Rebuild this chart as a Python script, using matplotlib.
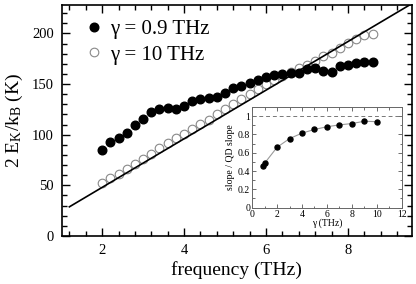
import numpy as np
import matplotlib
matplotlib.use('Agg')
import matplotlib.pyplot as plt
from matplotlib.ticker import MultipleLocator

plt.rcParams['font.family'] = ['Liberation Serif', 'DejaVu Serif']
plt.rcParams['mathtext.fontset'] = 'custom'
plt.rcParams['mathtext.rm'] = 'Liberation Serif'
plt.rcParams['mathtext.it'] = 'Liberation Serif:italic'

# main panel data
freq = [2.0, 2.2, 2.4, 2.6, 2.8, 3.0, 3.2, 3.4, 3.6, 3.8, 4.0, 4.2, 4.4, 4.6, 4.8, 5.0, 5.2,
        5.4, 5.6, 5.8, 6.0, 6.2, 6.4, 6.6, 6.8, 7.0, 7.2, 7.4, 7.6, 7.8, 8.0, 8.2, 8.4, 8.6]
ek_gamma09 = [85, 93, 97, 102, 110, 116, 122, 125, 126, 125, 128, 133, 135, 136, 137, 141, 146,
              148, 151, 154, 157, 159, 160, 161, 161, 165, 166, 163, 162, 168, 169, 171, 172, 172]
ek_gamma10 = [52.5, 57.5, 61.5, 66, 71, 76, 81, 86.5, 92, 97, 101, 106, 110.5, 115, 120, 125, 130,
              135, 140, 145, 150, 154, 158, 162, 166, 169, 172.5, 177.5, 181, 186, 190.5, 195, 198, 199.5]
qd_freq = [1.2, 10.0]
qd_slope = 24.0  # K per THz

# inset data
gamma = [0.9, 1.0, 2, 3, 4, 5, 6, 7, 8, 9, 10]
slope_ratio = [0.46, 0.485, 0.66, 0.755, 0.815, 0.855, 0.885, 0.905, 0.92, 0.945, 0.94]

fig = plt.figure(figsize=(4.16, 2.84), dpi=100)
ax = fig.add_axes([0.149, 0.169, 0.841, 0.813])

ax.plot(qd_freq, [qd_slope * f for f in qd_freq], color='black', lw=1.2, zorder=2)
ax.plot(freq, ek_gamma09, 'o', ms=6.2, color='black', mec='black', label='γ = 0.9 THz', zorder=3)
ax.plot(freq, ek_gamma10, 'o', ms=6.2, mfc='none', mec='#888888', mew=0.8, label='γ = 10 THz', zorder=1)

ax.set_xlim(1.02, 9.56)
ax.set_ylim(0, 228)
ax.xaxis.set_major_locator(MultipleLocator(2))
ax.xaxis.set_minor_locator(MultipleLocator(0.4))
ax.yaxis.set_major_locator(MultipleLocator(50))
ax.yaxis.set_minor_locator(MultipleLocator(10))
ax.tick_params(which='both', direction='in', top=True, right=True, labelsize=10.5, width=1)
ax.tick_params(which='major', length=6, pad=6)
ax.tick_params(which='minor', length=3.5)
for s in ax.spines.values():
    s.set_linewidth(1.2)
ax.set_xlabel('frequency (THz)', fontsize=14, labelpad=3)
ax.set_ylabel(r'2 E$_\mathrm{K}$/k$_\mathrm{B}$ (K)', fontsize=14, labelpad=5)
ax.legend(loc='upper left', bbox_to_anchor=(0.034, 0.975), frameon=False, fontsize=15,
          handletextpad=0.2, borderaxespad=0, labelspacing=0.3, handlelength=1.15)

# inset
axi = fig.add_axes([0.606, 0.269, 0.360, 0.354])
axi.axhline(1.0, color='#777777', lw=0.7, ls=(0, (4, 3)))
axi.plot(gamma, slope_ratio, '-', color='#999999', lw=0.8)
axi.plot(gamma, slope_ratio, 'o', color='black', ms=3.6)
axi.set_xlim(0, 12)
axi.set_ylim(0, 1.1)
axi.xaxis.set_major_locator(MultipleLocator(2))
axi.xaxis.set_minor_locator(MultipleLocator(1))
axi.yaxis.set_major_locator(MultipleLocator(0.2))
axi.yaxis.set_minor_locator(MultipleLocator(0.1))
axi.tick_params(which='both', direction='in', top=True, right=True, labelsize=7,
                width=0.6, color='#555555', pad=1.5)
axi.tick_params(which='major', length=3)
axi.tick_params(which='minor', length=1.8)
axi.set_yticks([0, 0.2, 0.4, 0.6, 0.8, 1.0])
axi.set_yticklabels(['0', '0.2', '0.4', '0.6', '0.8', '1'])
for s in axi.spines.values():
    s.set_linewidth(0.7)
    s.set_color('#666666')
axi.set_xlabel('γ (THz)', fontsize=7, labelpad=0)
axi.set_ylabel('slope / QD slope', fontsize=7, labelpad=2)

fig.savefig('out.png', dpi=100)
